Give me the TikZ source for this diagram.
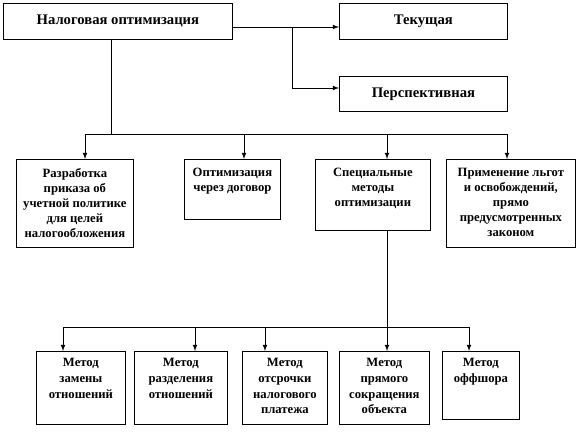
\documentclass[tikz,border=0pt]{standalone}
\usepackage{fontspec}
\setmainfont{Liberation Serif}
\usepackage{tikz}
\usetikzlibrary{arrows,positioning,calc}

\tikzset{
  box/.style 2 args={draw,line width=0.6pt,inner sep=0pt,anchor=north west,
    minimum width=#1*0.75pt,minimum height=#2*0.75pt},
  toptxt/.style={font=\fontsize{11}{13}\selectfont\bfseries},
  uptxt/.style={inner sep=0pt,align=center,font=\fontsize{9.5}{11.3}\selectfont\bfseries},
  lowtxt/.style={inner sep=0pt,align=center,font=\fontsize{9.5}{11.8}\selectfont\bfseries},
  line/.style={line width=0.6pt}
}

\begin{document}
\begin{tikzpicture}[x=0.75pt,y=-0.75pt,>=latex]
\useasboundingbox (0,0) rectangle (577,436);
\node[box={229}{36}] (nal) at (3,3) {};
\node[toptxt] (tnal) at (nal.center) {Налоговая оптимизация};
\node[box={168}{36}] (tek) at (339,3) {};
\node[toptxt] (ttek) at (tek.center) {Текущая};
\node[box={168}{35}] (per) at (339,76) {};
\node[toptxt] (tper) at (per.center) {Перспективная};

\node[box={117}{88}] (b1) at (16,159) {};
\node[uptxt,below=6.8pt of b1.north] (t1) {Разработка\\приказа об\\учетной политике\\для целей\\налогообложения};
\node[box={96}{60}] (b2) at (184,159) {};
\node[uptxt,below=6.8pt of b2.north] (t2) {Оптимизация\\через договор};
\node[box={115}{71}] (b3) at (315,159) {};
\node[uptxt,below=6.8pt of b3.north] (t3) {Специальные\\методы\\оптимизации};
\node[box={129}{88}] (b4) at (446,159) {};
\node[uptxt,below=6.8pt of b4.north] (t4) {Применение льгот\\и освобождений,\\прямо\\предусмотренных\\законом};

\node[box={89}{73}] (b5) at (36,351) {};
\node[lowtxt,below=5.3pt of b5.north] (t5) {Метод\\замены\\отношений};
\node[box={93}{73}] (b6) at (134,351) {};
\node[lowtxt,below=5.3pt of b6.north] (t6) {Метод\\разделения\\отношений};
\node[box={85}{73}] (b7) at (242,351) {};
\node[lowtxt,below=5.3pt of b7.north] (t7) {Метод\\отсрочки\\налогового\\платежа};
\node[box={90}{73}] (b8) at (339,351) {};
\node[lowtxt,below=5.3pt of b8.north] (t8) {Метод\\прямого\\сокращения\\объекта};
\node[box={77}{68}] (b9) at (442,351) {};
\node[lowtxt,below=5.3pt of b9.north] (t9) {Метод\\оффшора};

\coordinate (br) at (292,27);
\coordinate (pa) at (292,88);
\draw[line,->] (nal.east|-br) -- (tek.west|-br);
\draw[line,->] (br) -- (pa) -- (per.west|-pa);

\coordinate (m0) at (111,134);
\draw[line] (nal.south-|m0) -- (m0);
\draw[line] (85,134) coordinate (m1) -- (507,134) coordinate (m4);
\coordinate (m2) at (244,134);
\coordinate (m3) at (387,134);
\draw[line,->] (m1) -- (m1|-b1.north);
\draw[line,->] (m2) -- (m2|-b2.north);
\draw[line,->] (m3) -- (m3|-b3.north);
\draw[line,->] (m4) -- (m4|-b4.north);

\coordinate (k3) at (387,327);
\draw[line,->] (b3.south-|k3) -- (k3|-b8.north);
\draw[line] (63,327) coordinate (k1) -- (469,327) coordinate (k5);
\coordinate (k2) at (195,327);
\coordinate (k4) at (265,327);
\draw[line,->] (k1) -- (k1|-b5.north);
\draw[line,->] (k2) -- (k2|-b6.north);
\draw[line,->] (k4) -- (k4|-b7.north);
\draw[line,->] (k5) -- (k5|-b9.north);
\end{tikzpicture}
\end{document}
